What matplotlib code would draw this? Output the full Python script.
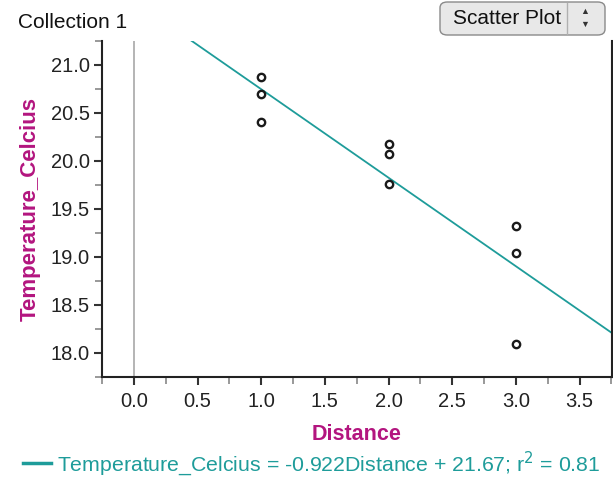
import matplotlib
matplotlib.use("Agg")
import matplotlib.pyplot as plt
from matplotlib.patches import FancyBboxPatch
import numpy as np

plt.rcParams['font.family'] = ['Liberation Sans', 'DejaVu Sans']

distance = [1, 1, 1, 2, 2, 2, 3, 3, 3]
temperature = [20.87, 20.70, 20.41, 20.18, 20.07, 19.76, 19.32, 19.04, 18.09]
slope = -0.922
intercept = 21.67
r2 = 0.81
x_ticks = [0.0, 0.5, 1.0, 1.5, 2.0, 2.5, 3.0, 3.5]
y_ticks = [18.0, 18.5, 19.0, 19.5, 20.0, 20.5, 21.0]

label_color = '#b3157f'
teal = '#1e9c9a'

fig = plt.figure(figsize=(6.13, 4.82), dpi=100)
ax = fig.add_axes([102/613, 1-377/482, (612-102)/613, (377-41)/482])

xmin, xmax = -0.243, 3.755
ymin, ymax = 17.75, 21.23
ax.set_xlim(xmin, xmax)
ax.set_ylim(ymin, ymax)

ax.axvline(0, color='#a8a8a8', lw=1.2, zorder=1)
xl = np.array([xmin, xmax])
ax.plot(xl, slope*xl + intercept, color=teal, lw=1.3, zorder=2)
ax.scatter(distance, temperature, s=28, facecolors='white', edgecolors='#1a1a1a', linewidths=1.7, zorder=3)

ax.set_xticks(x_ticks)
ax.set_xticklabels([f"{v:.1f}" for v in x_ticks])
ax.set_yticks(y_ticks)
ax.set_yticklabels([f"{v:.1f}" for v in y_ticks])
ax.set_xticks(np.arange(-0.25, 3.76, 0.25), minor=True)
ax.set_yticks(np.arange(17.75, 21.3, 0.25), minor=True)
ax.tick_params(axis='both', which='major', labelsize=14.5, colors='#333333', labelcolor='#222222', width=1.5, length=6)
ax.tick_params(axis='both', which='minor', colors='#888888', width=1.2, length=5)
ax.tick_params(axis='x', pad=5)
ax.tick_params(axis='y', pad=3)

ax.spines['top'].set_visible(False)
for s in ['left', 'bottom', 'right']:
    ax.spines[s].set_linewidth(1.5)
    ax.spines[s].set_color('#222222')

ax.set_xlabel('Distance', fontsize=15.5, fontweight='bold', color=label_color, labelpad=9)
ax.set_ylabel('Temperature_Celcius', fontsize=16, fontweight='bold', color=label_color, labelpad=7)

fig.text(18/613, 1-23/482, 'Collection 1', fontsize=15, color='#111111', va='center', ha='left')

# Scatter plot button
btn = FancyBboxPatch((440/613, 1-35/482), (605-440)/613, 33/482,
                     boxstyle="round,pad=0,rounding_size=0.012",
                     transform=fig.transFigure, facecolor='#e8e8e8', edgecolor='#8a8a8a', lw=1.0)
fig.patches.append(btn)
fig.add_artist(plt.Line2D([567/613, 567/613], [1-34/482, 1-3/482], transform=fig.transFigure, color='#b0b0b0', lw=1))
fig.text(453/613, 1-18/482, 'Scatter Plot', fontsize=15, color='#111111', va='center', ha='left')
fig.text(585/613, 1-12/482, '\u25b2', fontsize=6.5, color='#333333', va='center', ha='center')
fig.text(585/613, 1-24/482, '\u25bc', fontsize=6.5, color='#333333', va='center', ha='center')

# Legend line
fig.add_artist(plt.Line2D([23/613, 51/613], [1-463/482, 1-463/482], transform=fig.transFigure, color=teal, lw=2.5))
fig.text(57/613, 1-464/482, f'Temperature_Celcius = {slope}Distance + {intercept}; r$^2$ = {r2}',
         fontsize=15.3, color=teal, va='center', ha='left')

fig.savefig('out.png', dpi=100)
